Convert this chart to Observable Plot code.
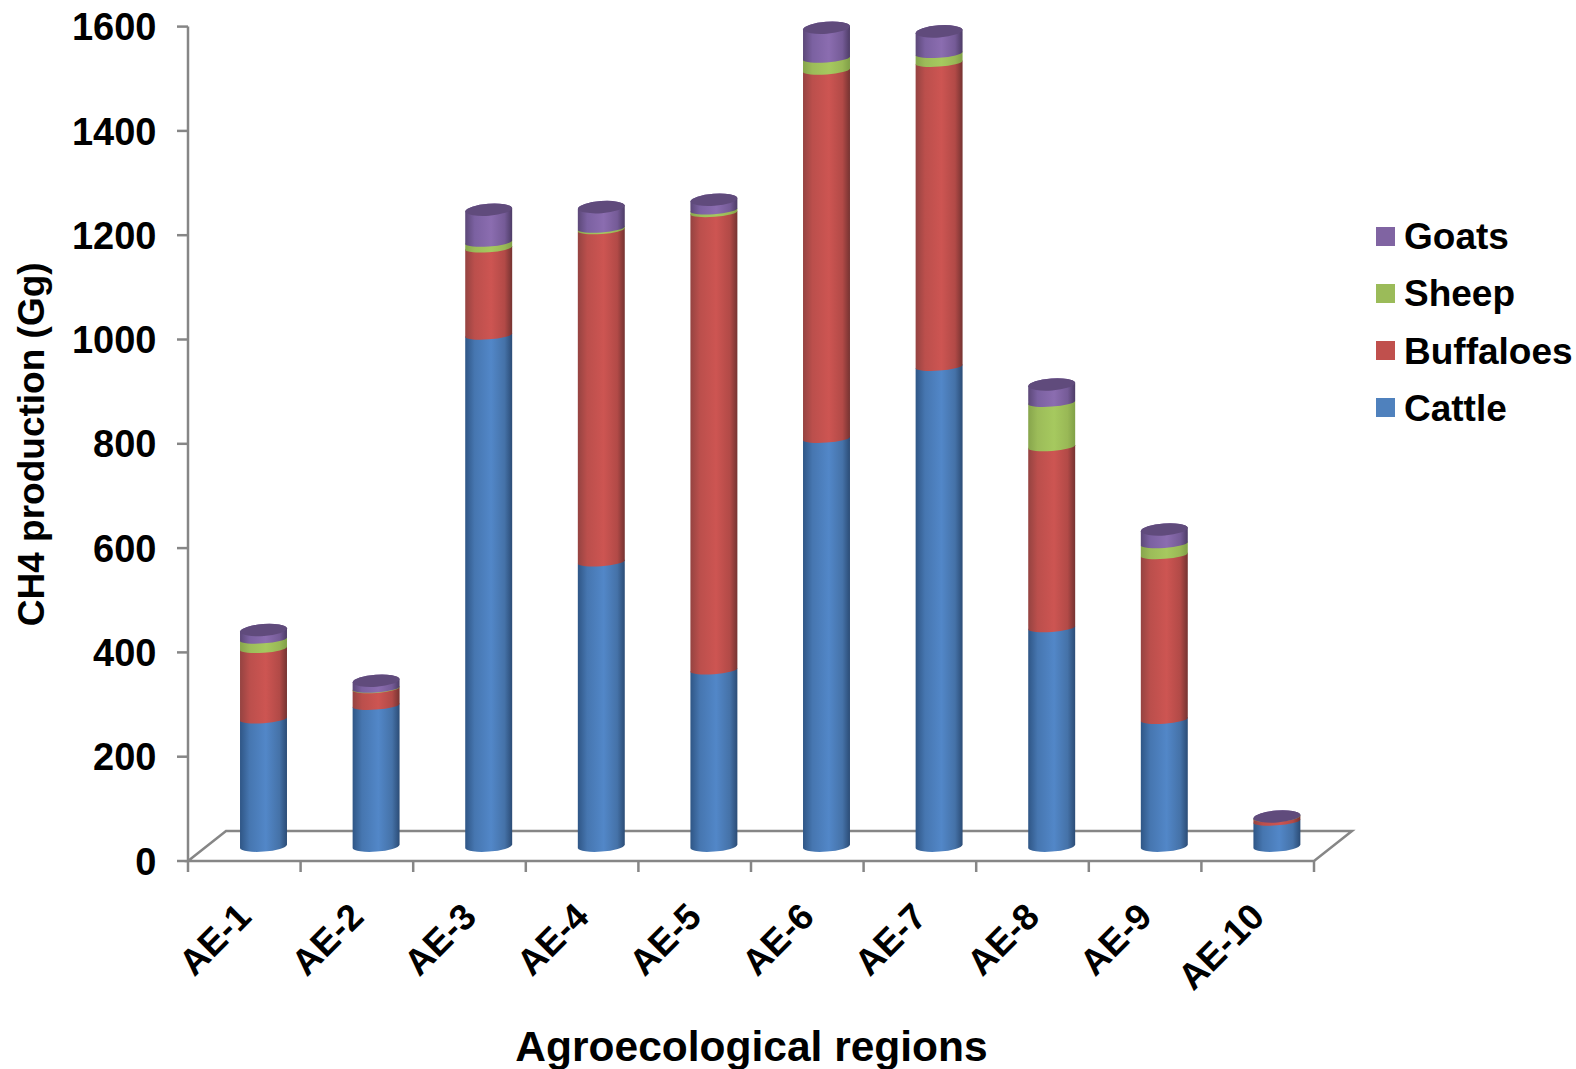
<!DOCTYPE html>
<html>
<head>
<meta charset="utf-8">
<script src="https://cdn.jsdelivr.net/npm/d3@7"></script>
<script src="https://cdn.jsdelivr.net/npm/@observablehq/plot@0.6"></script>
<style>
  html, body { margin: 0; background: #fff; }
  #wrap { position: relative; width: 1576px; height: 1069px; overflow: hidden; font-family: "Liberation Sans", Arial, sans-serif; }
  svg { display: block; }
  .key { position: absolute; left: 1404px; font-weight: 700; font-size: 37px; line-height: 40px; color: #000; white-space: nowrap; }
  .swatch { position: absolute; left: 1376px; width: 19px; height: 19px; }
</style>
</head>
<body>
<div id="wrap"></div>
<script>
// Enteric CH4 production by agroecological region, stacked by livestock type (Gg).
const regions   = ["AE-1","AE-2","AE-3","AE-4","AE-5","AE-6","AE-7","AE-8","AE-9","AE-10"];
const cattle    = [244, 270, 980, 545, 338, 782, 920, 419, 243, 48];
const buffaloes = [135,  32, 167, 637, 877, 706, 583, 347, 316, 7];
const sheep     = [ 18,   1,  11,   3,   5,  23,  17,  85,  21, 0.5];
const goats     = [ 18,  15,  63,  41,  20,  59,  43,  35,  28, 2];
const yTicks    = [0, 200, 400, 600, 800, 1000, 1200, 1400, 1600];

const seriesNames  = ["Cattle", "Buffaloes", "Sheep", "Goats"];
const seriesValues = [cattle, buffaloes, sheep, goats];
const swatches     = ["#4f81bd", "#c0504d", "#9bbb59", "#8064a2"];
// edge, shoulder, centre, shoulder, edge
const shades = [
  ["#2f5686", "#4676b0", "#5287c8", "#4572a8", "#2b4c76"],
  ["#954341", "#bb4f4c", "#cd5552", "#b24a47", "#753331"],
  ["#87a54c", "#9cbc59", "#a6c95f", "#99b856", "#80a047"],
  ["#5c4878", "#7b61a1", "#8b6db0", "#755b97", "#4d3c66"]
];
const stopAt = ["0%", "20%", "55%", "84%", "100%"];

const rows = seriesNames.flatMap((s, i) =>
  regions.map((r, j) => ({region: r, series: s, value: seriesValues[i][j], fill: `url(#side-${i})`}))
);

const depthX = 38, depthY = 30;        // floor depth of the pseudo-3D box
const rx = 23.6, tilt = 3.5;           // cylinder cross-section
const ryLid = 6.5, ryBase = 5.5, ryBand = 4.2;
const tiltDeg = -Math.atan2(tilt, 2 * rx) * 180 / Math.PI;
const axisGrey = "#868686";

// Gradients shading the cylinder sides
function gradients() {
  const svg = d3.create("svg:g");
  const defs = svg.append("defs");
  shades.forEach((colors, i) => {
    const g = defs.append("linearGradient").attr("id", `side-${i}`);
    colors.forEach((c, k) => g.append("stop").attr("offset", stopAt[k]).attr("stop-color", c));
  });
  return svg.node();
}

// Axis lines, ticks and the slanted floor behind the bars
function frame(index, {y}, values, {width, marginLeft, marginRight}) {
  const y0 = y(0), x0 = marginLeft, x1 = width - marginRight;
  const g = d3.create("svg:g").attr("fill", "none").attr("stroke", axisGrey).attr("stroke-width", 2.5);
  g.append("path").attr("d",
    `M${x0},${y0}L${x0 + depthX},${y0 - depthY}L${x1 + depthX},${y0 - depthY}L${x1},${y0}Z`);
  g.append("path").attr("d", `M${x0},${y(yTicks[yTicks.length - 1])}V${y0}`);
  const step = (x1 - x0) / regions.length;
  d3.range(regions.length + 1).forEach(i =>
    g.append("path").attr("d", `M${x0 + i * step},${y0}v11`));
  yTicks.forEach(t => g.append("path").attr("d", `M${x0},${y(t)}h-11`));
  return g.node();
}

// Turn each stacked rect into a cylinder section; the last series also gets a lid
function cylinder(index, scales, values, dimensions, context, next) {
  const g = next(index, scales, values, dimensions, context);
  const arc = ry => `A${rx},${ry} ${tiltDeg} 0 0`;
  const root = d3.select(g);
  const lids = [];
  root.selectAll("rect").each(function(_, k) {
    const r = d3.select(this);
    const l = +r.attr("x"), w = +r.attr("width"), t = +r.attr("y"), h = +r.attr("height");
    const row = rows[index[k]];
    const front = arc(row.series === "Cattle" ? ryBase : ryBand);
    const d = `M${l},${t + tilt / 2}L${l},${t + h + tilt / 2}${front} ${l + w},${t + h - tilt / 2}` +
              `L${l + w},${t - tilt / 2}${arc(ryLid)} ${l},${t + tilt / 2}Z`;
    const p = d3.create("svg:path").attr("d", d).attr("fill", r.attr("fill"));
    this.replaceWith(p.node());
    if (row.series === "Goats") {
      lids.push(`M${l},${t + tilt / 2}${arc(ryLid)} ${l + w},${t - tilt / 2}${arc(ryLid)} ${l},${t + tilt / 2}Z`);
    }
  });
  lids.forEach(d => root.append("path").attr("d", d).attr("fill", "#604b7c"));
  return g;
}

const chart = Plot.plot({
  width: 1576,
  height: 1069,
  marginLeft: 188,
  marginRight: 262,
  marginTop: 26.6,
  marginBottom: 208,
  style: {fontFamily: "'Liberation Sans', Arial, sans-serif", color: "#000", background: "#fff"},
  x: {domain: regions, paddingInner: 0.583, paddingOuter: 0.2915, round: false},
  y: {domain: [0, 1600]},
  color: {type: "identity"},
  marks: [
    gradients,
    frame,
    Plot.axisY({
      ticks: yTicks, tickSize: 0, tickPadding: 32, dy: 1,
      fontSize: 38, fontWeight: 700, tickFormat: d => String(d),
      label: null
    }),
    Plot.axisX({
      tickSize: 0, tickRotate: -45, tickPadding: 49, fontSize: 36.6, fontWeight: 700,
      label: null
    }),
    Plot.text(["CH4 production (Gg)"], {
      frameAnchor: "left", dx: -156, rotate: -90, fontSize: 37, fontWeight: 700, textAnchor: "middle"
    }),
    Plot.text(["Agroecological regions"], {
      frameAnchor: "bottom", dy: 199, fontSize: 42.5, fontWeight: 700, lineAnchor: "bottom"
    }),
    Plot.barY(rows, Plot.stackY({order: null}, {
      x: "region", y: "value", fill: "fill", dx: 19.2, dy: -14.5, render: cylinder
    }))
  ]
});

const wrap = document.getElementById("wrap");
wrap.appendChild(chart);

// Legend, top of stack first
const keyTops = [217, 274, 332, 389];
const swatchTops = [227, 284, 341, 398];
[3, 2, 1, 0].forEach((s, i) => {
  const box = document.createElement("div");
  box.className = "swatch";
  box.style.top = swatchTops[i] + "px";
  box.style.background = swatches[s];
  wrap.appendChild(box);
  const row = document.createElement("div");
  row.className = "key";
  row.style.top = keyTops[i] + "px";
  row.textContent = seriesNames[s];
  wrap.appendChild(row);
});
</script>
</body>
</html>
